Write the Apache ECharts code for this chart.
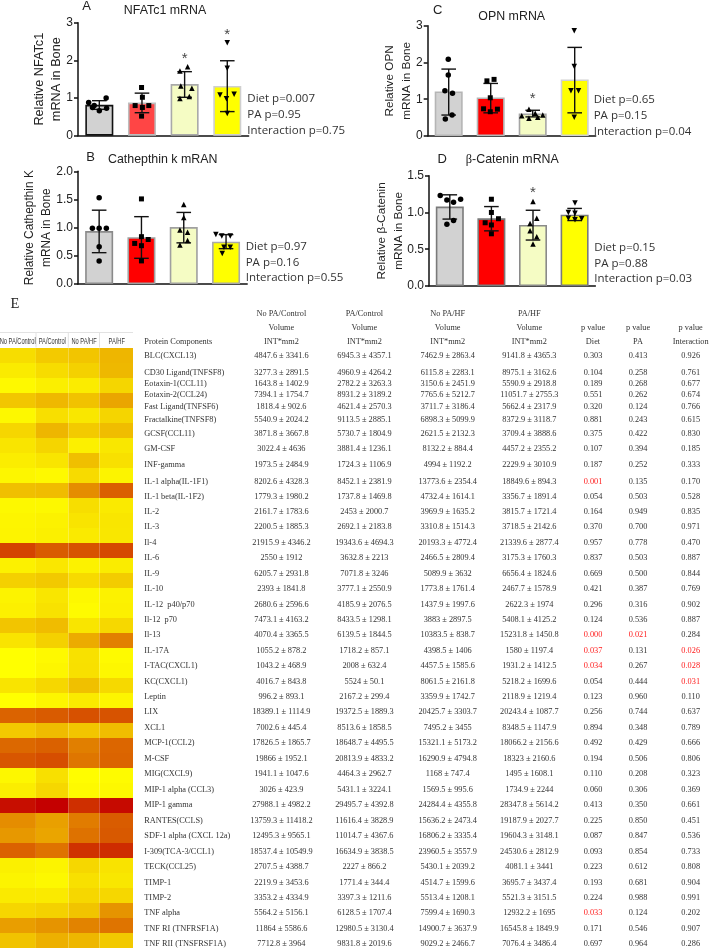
<!DOCTYPE html>
<html><head><meta charset="utf-8">
<style>html,body{margin:0;padding:0;background:#fff}#c{width:709px;height:950px}</style>
<script src="https://cdn.jsdelivr.net/npm/echarts@6/dist/echarts.min.js"></script>
</head><body><div id="c"></div>
<script>
// ---------- bar panels data ----------
const groups = ['No PA/Control','PA/Control','No PA/HF','PA/HF'];
const meansA = [0.82,0.88,1.37,1.32];
const lowA   = [0.70,0.61,1.02,0.64];
const highA  = [0.93,1.13,1.70,1.99];
const pointsA = [
 [[0.25,0.88],[0.38,0.80],[0.66,1.00],[0.50,0.66],[0.67,0.73],[0.34,0.75]],
 [[1.49,1.28],[1.51,1.02],[1.34,0.80],[1.51,0.75],[1.66,0.80],[1.49,0.52]],
 [[2.39,1.72],[2.57,1.83],[2.41,1.32],[2.67,1.26],[2.39,0.99],[2.61,1.04]],
 [[3.50,2.47],[3.50,1.79],[3.33,1.08],[3.66,1.10],[3.48,0.98],[3.50,0.59]]];
const starsA = [[2.5,2.08],[3.5,2.74]];
const meansB = [0.94,0.83,1.01,0.75];
const lowB   = [0.556,0.456,0.73,0.627];
const highB  = [1.31,1.195,1.27,0.876];
const pointsB = [
 [[0.5,1.53],[0.34,0.99],[0.5,0.99],[0.67,0.99],[0.5,0.66],[0.5,0.41]],
 [[1.5,1.51],[1.5,0.84],[1.34,0.72],[1.66,0.79],[1.5,0.68],[1.5,0.41]],
 [[2.5,1.41],[2.5,1.18],[2.41,0.96],[2.59,0.92],[2.41,0.69],[2.59,0.77]],
 [[3.26,0.88],[3.4,0.85],[3.6,0.85],[3.45,0.65],[3.6,0.65],[3.41,0.54]]];
const starsB = [];
const meansC = [1.21,1.05,0.61,1.54];
const lowC   = [0.57,0.63,0.52,0.63];
const highC  = [1.82,1.43,0.70,2.41];
const pointsC = [
 [[0.49,2.09],[0.49,1.66],[0.41,1.23],[0.59,1.16],[0.58,0.57],[0.42,0.46]],
 [[1.41,1.50],[1.58,1.54],[1.49,1.04],[1.33,0.74],[1.66,0.73],[1.49,0.66]],
 [[2.41,0.73],[2.24,0.55],[2.41,0.48],[2.56,0.62],[2.74,0.57],[2.62,0.51]],
 [[3.49,2.86],[3.49,1.89],[3.41,1.23],[3.59,1.23],[3.49,0.51]]];
const starsC = [[2.5,1.07]];
const meansD = [1.08,0.92,0.83,0.97];
const lowD   = [0.91,0.75,0.625,0.89];
const highD  = [1.24,1.08,1.03,1.055];
const pointsD = [
 [[0.27,1.23],[0.43,1.17],[0.59,1.14],[0.76,1.18],[0.59,0.89],[0.43,0.84]],
 [[1.5,1.18],[1.5,1.0],[1.67,0.915],[1.35,0.86],[1.5,0.83],[1.5,0.71]],
 [[2.5,1.15],[2.59,0.92],[2.43,0.85],[2.43,0.75],[2.59,0.67],[2.5,0.57]],
 [[3.51,1.13],[3.35,1.0],[3.51,0.99],[3.67,0.915],[3.51,0.90],[3.35,0.92]]];
const starsD = [[2.5,1.30]];
const barTitles = ['NFATc1 mRNA','Cathepthin k mRAN','OPN mRNA','{b|β}-Catenin mRNA'];
const panelLetters = ['A','B','C','D'];
const yNames = ['Relative NFATc1\nmRNA in Bone','Relative Cathepthin K\nmRNA in Bone','Relative OPN\nmRNA in Bone','Relative β-Catenin\nmRNA in Bone'];
const yMax = [3,2,3,1.5];
const yStep = [1,0.5,1,0.5];
const statNotes = [['Diet p=0.007','PA p=0.95','Interaction p=0.75'],['Diet p=0.97','PA p=0.16','Interaction p=0.55'],['Diet p=0.65','PA p=0.15','Interaction p=0.04'],['Diet p=0.15','PA p=0.88','Interaction p=0.03']];

// ---------- table data ----------
const proteins = ['BLC(CXCL13)','CD30 Ligand(TNFSF8)','Eotaxin-1(CCL11)','Eotaxin-2(CCL24)','Fast Ligand(TNFSF6)','Fractalkine(TNFSF8)','GCSF(CCL11)','GM-CSF','INF-gamma','IL-1 alpha(IL-1F1)','IL-1 beta(IL-1F2)','IL-2','IL-3','Il-4','IL-6','IL-9','IL-10','IL-12  p40/p70','Il-12  p70','Il-13','IL-17A','I-TAC(CXCL1)','KC(CXCL1)','Leptin','LIX','XCL1','MCP-1(CCL2)','M-CSF','MIG(CXCL9)','MIP-1 alpha (CCL3)','MIP-1 gamma','RANTES(CCLS)','SDF-1 alpha (CXCL 12a)','I-309(TCA-3/CCL1)','TECK(CCL25)','TIMP-1','TIMP-2','TNF alpha','TNF RI (TNFRSF1A)','TNF RII (TNSFRSF1A)'];
const noPaControl = ['4847.6 ± 3341.6','3277.3 ± 2891.5','1643.8 ± 1402.9','7394.1 ± 1754.7','1818.4 ± 902.6','5540.9 ± 2024.2','3871.8 ± 3667.8','3022.4 ± 4636','1973.5 ± 2484.9','8202.6 ± 4328.3','1779.3 ± 1980.2','2161.7 ± 1783.6','2200.5 ± 1885.3','21915.9 ± 4346.2','2550 ± 1912','6205.7 ± 2931.8','2393 ± 1841.8','2680.6 ± 2596.6','7473.1 ± 4163.2','4070.4 ± 3365.5','1055.2 ± 878.2','1043.2 ± 468.9','4016.7 ± 843.8','996.2 ± 893.1','18389.1 ± 1114.9','7002.6 ± 445.4','17826.5 ± 1865.7','19866 ± 1952.1','1941.1 ± 1047.6','3026 ± 423.9','27988.1 ± 4982.2','13759.3 ± 11418.2','12495.3 ± 9565.1','18537.4 ± 10549.9','2707.5 ± 4388.7','2219.9 ± 3453.6','3353.2 ± 4334.9','5564.2 ± 5156.1','11864 ± 5586.6','7712.8 ± 3964'];
const paControl = ['6945.3 ± 4357.1','4960.9 ± 4264.2','2782.2 ± 3263.3','8931.2 ± 3189.2','4621.4 ± 2570.3','9113.5 ± 2885.1','5730.7 ± 1804.9','3881.4 ± 1236.1','1724.3 ± 1106.9','8452.1 ± 2381.9','1737.8 ± 1469.8','2453 ± 2000.7','2692.1 ± 2183.8','19343.6 ± 4694.3','3632.8 ± 2213','7071.8 ± 3246','3777.1 ± 2550.9','4185.9 ± 2076.5','8433.5 ± 1298.1','6139.5 ± 1844.5','1718.2 ± 857.1','2008 ± 632.4','5524 ± 50.1','2167.2 ± 299.4','19372.5 ± 1889.3','8513.6 ± 1858.5','18648.7 ± 4495.5','20813.9 ± 4833.2','4464.3 ± 2962.7','5431.1 ± 3224.1','29495.7 ± 4392.8','11616.4 ± 3828.9','11014.7 ± 4367.6','16634.9 ± 3838.5','2227 ± 866.2','1771.4 ± 344.4','3397.3 ± 1211.6','6128.5 ± 1707.4','12980.5 ± 3130.4','9831.8 ± 2019.6'];
const noPaHf = ['7462.9 ± 2863.4','6115.8 ± 2283.1','3150.6 ± 2451.9','7765.6 ± 5212.7','3711.7 ± 3186.4','6898.3 ± 5099.9','2621.5 ± 2132.3','8132.2 ± 884.4','4994 ± 1192.2','13773.6 ± 2354.4','4732.4 ± 1614.1','3969.9 ± 1635.2','3310.8 ± 1514.3','20193.3 ± 4772.4','2466.5 ± 2809.4','5089.9 ± 3632','1773.8 ± 1761.4','1437.9 ± 1997.6','3883 ± 2897.5','10383.5 ± 838.7','4398.5 ± 1406','4457.5 ± 1585.6','8061.5 ± 2161.8','3359.9 ± 1742.7','20425.7 ± 3303.7','7495.2 ± 3455','15321.1 ± 5173.2','16290.9 ± 4794.8','1168 ± 747.4','1569.5 ± 995.6','24284.4 ± 4355.8','15636.2 ± 2473.4','16806.2 ± 3335.4','23960.5 ± 3557.9','5430.1 ± 2039.2','4514.7 ± 1599.6','5513.4 ± 1208.1','7599.4 ± 1690.3','14900.7 ± 3637.9','9029.2 ± 2466.7'];
const paHf = ['9141.8 ± 4365.3','8975.1 ± 3162.6','5590.9 ± 2918.8','11051.7 ± 2755.3','5662.4 ± 2317.9','8372.9 ± 3118.7','3709.4 ± 3888.6','4457.2 ± 2355.2','2229.9 ± 3010.9','18849.6 ± 894.3','3356.7 ± 1891.4','3815.7 ± 1721.4','3718.5 ± 2142.6','21339.6 ± 2877.4','3175.3 ± 1760.3','6656.4 ± 1824.6','2467.7 ± 1578.9','2622.3 ± 1974','5408.1 ± 4125.2','15231.8 ± 1450.8','1580 ± 1197.4','1931.2 ± 1412.5','5218.2 ± 1699.6','2118.9 ± 1219.4','20243.4 ± 1087.7','8348.5 ± 1147.9','18066.2 ± 2156.6','18323 ± 2160.6','1495 ± 1608.1','1734.9 ± 2244','28347.8 ± 5614.2','19187.9 ± 2027.7','19604.3 ± 3148.1','24530.6 ± 2812.9','4081.1 ± 3441','3695.7 ± 3437.4','5521.3 ± 3151.5','12932.2 ± 1695','16545.8 ± 1849.9','7076.4 ± 3486.4'];
const pDiet = ['0.303','0.104','0.189','0.551','0.320','0.881','0.375','0.107','0.187','0.001','0.054','0.164','0.370','0.957','0.837','0.669','0.421','0.296','0.124','0.000','0.037','0.034','0.054','0.123','0.256','0.894','0.492','0.194','0.110','0.060','0.413','0.225','0.087','0.093','0.223','0.193','0.224','0.033','0.171','0.697'];
const pPA = ['0.413','0.258','0.268','0.262','0.124','0.243','0.422','0.394','0.252','0.135','0.503','0.949','0.700','0.778','0.503','0.500','0.387','0.316','0.536','0.021','0.131','0.267','0.444','0.960','0.744','0.348','0.429','0.506','0.208','0.306','0.350','0.850','0.847','0.854','0.612','0.681','0.988','0.124','0.546','0.964'];
const pInteraction = ['0.926','0.761','0.677','0.674','0.766','0.615','0.830','0.185','0.333','0.170','0.528','0.835','0.971','0.470','0.887','0.844','0.769','0.902','0.887','0.284','0.026','0.028','0.031','0.110','0.637','0.789','0.666','0.806','0.323','0.369','0.661','0.451','0.536','0.733','0.808','0.904','0.991','0.202','0.907','0.286'];
const tableHeads = [['No PA/Control','Volume','INT*mm2'],['PA/Control','Volume','INT*mm2'],['No PA/HF','Volume','INT*mm2'],['PA/HF','Volume','INT*mm2'],['','p value','Diet'],['','p value','PA'],['','p value','Interaction']];

// ---------- layout and style (not data) ----------
const grids = [
 {left:78,top:22.7,width:170.6,height:113},
 {left:78,top:171.3,width:169.2,height:112.7},
 {left:427.7,top:25.7,width:168,height:110.3},
 {left:429,top:175.7,width:166.4,height:110.3}];
const barBorders = [['#111','#bdbdbd','#a9a9a9','#cfcfcf'],['#8a8a8a','#a0a0a0','#a0a0a0','#aaa'],['#b5b5b5','#b5b5b5','#a5a5a5','#d0d0d0'],['#7a7a7a','#7a7a7a','#8a8a8a','#7a7a7a']];
const barFills = [['#d2d2d2','#ff4545','#f5fcc4','#ffff00'],['#d2d2d2','#ff0000','#f5fcc4','#ffff00'],['#d2d2d2','#ff0000','#f5fcc4','#ffff00'],['#d2d2d2','#ff0000','#f5fcc4','#ffff00']];
const symbols = [['circle',5.5,0],['rect',5,0],['triangle',5.5,0],['triangle',5.5,180]];
const yNameGap = [13,23,13,22];
const yNameSize = [12.7,11.9,11.8,11.8];
const titlePos = [[165,5],[162.7,154],[511.7,11],[512.3,154]];
const letterPos = [[86.7,0],[90.7,151],[437.7,4],[442.3,153]];
const notePos = [[247.3,99,114.7,130.7],[245.7,246.7,262.3,277.7],[593.7,100,115.3,131.3],[594.3,247.3,263.3,279]];
const colEdges = [0,1.08,2.06,2.99,4];
const headerCenters = [17.7,52.3,84,116.7];
const columnCenters = [281.4,364.4,447.7,529.3,593,638,690.7];
const headerRowY = [313.7,328,342];
const rowY = [356,373,383.7,395,407.3,420.3,434.3,449,465,481.7,496.7,512,527.3,542.7,558,573.7,589,604.7,620,635.3,650.7,666.3,681.7,697,712.3,728,743.3,759,774.3,789.7,805.3,820.7,836,851.7,867,882.7,898,913.3,928.7,944.3];
const serif = '"Liberation Serif"', sans = '"Liberation Sans"', note = '"Open Sans"';

const allMeans = [meansA,meansB,meansC,meansD], allLow=[lowA,lowB,lowC,lowD], allHigh=[highA,highB,highC,highD];
const allPoints=[pointsA,pointsB,pointsC,pointsD], allStars=[starsA,starsB,starsC,starsD];
const cols = [noPaControl,paControl,noPaHf,paHf];

const grid=[],xAxis=[],yAxis=[],series=[],title=[],graphic=[];
function errorRender(p,api){
  const x=api.value(0), top=api.coord([x,api.value(2)]), bot=api.coord([x,api.value(1)]), cap=7.3;
  const ln=(a,b,c,d)=>({type:'line',shape:{x1:a,y1:b,x2:c,y2:d},style:{stroke:'#111',lineWidth:1.4}});
  return {type:'group',children:[ln(top[0],top[1],top[0],bot[1]),ln(top[0]-cap,top[1],top[0]+cap,top[1]),ln(top[0]-cap,bot[1],top[0]+cap,bot[1])]};
}
grids.forEach((g,i)=>{
  grid.push(g);
  const axisLine={show:true,lineStyle:{color:'#111',width:1.5}};
  xAxis.push({type:'category',gridIndex:i,data:groups,axisLabel:{show:false},axisTick:{show:false},axisLine});
  xAxis.push({type:'value',gridIndex:i,min:0,max:4,show:false});
  yAxis.push({type:'value',gridIndex:i,min:0,max:yMax[i],interval:yStep[i],splitLine:{show:false},
    axisLine,axisTick:{show:true,length:4,lineStyle:{color:'#111',width:1.5}},
    axisLabel:{color:'#222',fontFamily:sans,fontSize:12,margin:5,formatter:v=>yStep[i]<1?v.toFixed(1):String(v)},
    name:yNames[i],nameLocation:'middle',nameGap:yNameGap[i],nameRotate:90,nameMoveOverlap:false,
    nameTextStyle:{color:'#222',fontFamily:sans,fontSize:yNameSize[i],lineHeight:16.7}});
  series.push({type:'bar',xAxisIndex:2*i,yAxisIndex:i,barWidth:28,silent:true,
    data:allMeans[i].map((v,k)=>({value:v,itemStyle:{color:barFills[i][k],borderColor:barBorders[i][k],borderWidth:1.6}}))});
  series.push({type:'custom',xAxisIndex:2*i,yAxisIndex:i,renderItem:errorRender,silent:true,z:3,
    encode:{x:0,y:[1,2]},data:allLow[i].map((v,k)=>[k,v,allHigh[i][k]])});
  allPoints[i].forEach((pts,k)=>series.push({type:'scatter',xAxisIndex:2*i+1,yAxisIndex:i,z:4,silent:true,
    symbol:symbols[k][0],symbolSize:symbols[k][1],symbolRotate:symbols[k][2],itemStyle:{color:'#000',opacity:1},data:pts}));
  if(allStars[i].length) series.push({type:'scatter',xAxisIndex:2*i+1,yAxisIndex:i,z:4,silent:true,symbolSize:1,
    itemStyle:{color:'transparent'},data:allStars[i],
    label:{show:true,position:'inside',formatter:'*',color:'#111',fontFamily:sans,fontSize:15,offset:[0,2]}});
  title.push({text:barTitles[i],left:titlePos[i][0],top:titlePos[i][1],textAlign:'center',padding:0,
    textStyle:{color:'#222',fontWeight:'normal',fontFamily:sans,fontSize:12.4,rich:{b:{fontFamily:serif,fontSize:12.4,color:'#222'}}}});
  title.push({text:panelLetters[i],left:letterPos[i][0],top:letterPos[i][1],textAlign:'center',padding:0,
    textStyle:{color:'#222',fontWeight:'normal',fontFamily:sans,fontSize:13}});
  statNotes[i].forEach((t,k)=>graphic.push({type:'text',x:notePos[i][0],y:notePos[i][k+1],silent:true,
    style:{text:t,font:'11.5px '+note,fill:'#333',textVerticalAlign:'middle'}}));
});

// ---------- heat map: one row per protein, colour from the mean of each group ----------
const heatData=[];
cols.forEach((c,ci)=>c.forEach((s,r)=>heatData.push([ci,r,parseFloat(s)])));
grid.push({left:0,top:348,width:133,height:600});
xAxis.push({type:'value',gridIndex:4,min:0,max:4,show:false});
yAxis.push({type:'category',gridIndex:4,inverse:true,data:proteins,show:false});
const heatIndex=series.length;
series.push({type:'custom',xAxisIndex:8,yAxisIndex:4,silent:true,encode:{x:0,y:1},data:heatData,
  renderItem(p,api){
    const c=api.value(0), r=api.value(1);
    const a=api.coord([colEdges[c],r]), b=api.coord([colEdges[c+1],r]), h=api.size([0,1])[1];
    return {type:'rect',shape:{x:a[0],y:a[1]-h/2,width:b[0]-a[0],height:h},style:{fill:api.visual('color')}};
  }});

// heat-map header and table text
const rule=(x1,y1,x2,y2)=>graphic.push({type:'line',silent:true,shape:{x1,y1,x2,y2},style:{stroke:'#e2e2e2',lineWidth:1}});
rule(0,332.5,133,332.5);
[36,68.3,99.5].forEach(x=>rule(x,332.5,x,347.5));
groups.forEach((t,i)=>graphic.push({type:'text',x:headerCenters[i],y:341.5,scaleX:0.6,silent:true,
  style:{text:t,font:'9.5px '+sans,fill:'#333',textAlign:'center',textVerticalAlign:'middle'}}));
const cell=(t,x,y,align,fill)=>graphic.push({type:'text',x,y,silent:true,
  style:{text:t,font:'8.3px '+serif,fill:fill||'#333',textAlign:align,textVerticalAlign:'middle'}});
graphic.push({type:'text',x:15,y:304,silent:true,style:{text:'E',font:'14.5px '+serif,fill:'#222',textAlign:'center',textVerticalAlign:'middle'}});
cell('Protein Components',144.3,headerRowY[2],'left');
tableHeads.forEach((h,c)=>h.forEach((t,r)=>{ if(t) cell(t,columnCenters[c],headerRowY[r],'center'); }));
proteins.forEach((t,r)=>{
  cell(t,144.3,rowY[r],'left');
  cols.forEach((c,ci)=>cell(c[r],columnCenters[ci],rowY[r],'center'));
  [pDiet,pPA,pInteraction].forEach((c,ci)=>cell(c[r],columnCenters[4+ci],rowY[r],'center',parseFloat(c[r])<0.05?'#ff1a1a':'#333'));
});

const chart=echarts.init(document.getElementById('c'),null,{renderer:'canvas'});
chart.setOption({animation:false,backgroundColor:'#fff',title,grid,xAxis,yAxis,series,graphic:{elements:graphic},
  tooltip:{show:false},
  visualMap:{show:false,seriesIndex:heatIndex,dimension:2,min:1000,max:29500,inRange:{color:['#ffff00','#c40000']}}});
</script></body></html>
